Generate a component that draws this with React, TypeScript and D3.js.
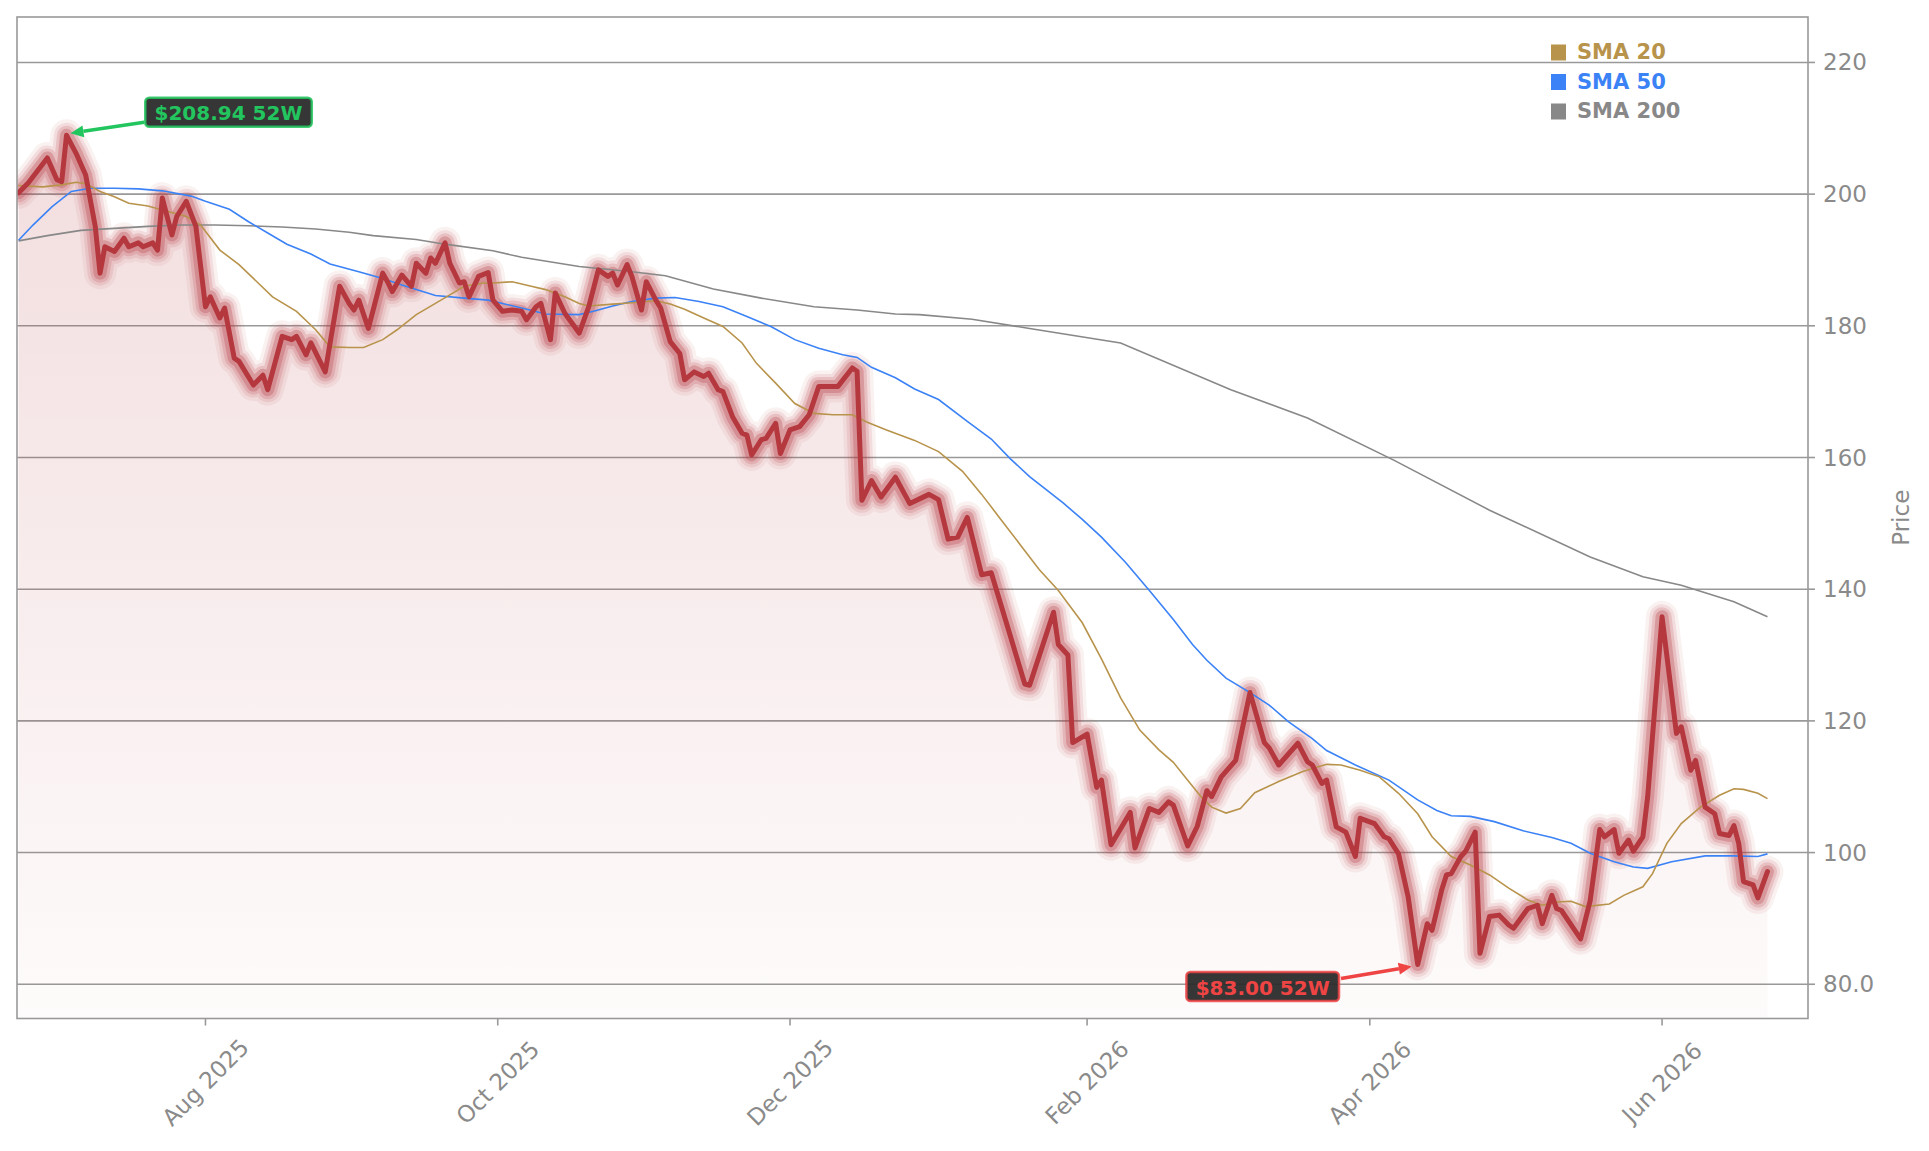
import React from 'react';
import * as d3 from 'd3';

// Daily close (vertices)
const price: [string, number][] = [
  ['2025-06-23', 200.2], ['2025-06-25', 201.7], ['2025-06-29', 205.5], ['2025-07-01', 202.2],
  ['2025-07-02', 201.9], ['2025-07-03', 208.94], ['2025-07-05', 206.2], ['2025-07-07', 202.9],
  ['2025-07-09', 195.1], ['2025-07-10', 188.0], ['2025-07-11', 192.0], ['2025-07-13', 191.3],
  ['2025-07-15', 193.3], ['2025-07-16', 192.0], ['2025-07-18', 192.6], ['2025-07-19', 192.0],
  ['2025-07-21', 192.6], ['2025-07-22', 191.5], ['2025-07-23', 199.4], ['2025-07-25', 193.8],
  ['2025-07-26', 196.6], ['2025-07-28', 198.9], ['2025-07-30', 195.1], ['2025-08-01', 182.9],
  ['2025-08-02', 184.4], ['2025-08-04', 181.2], ['2025-08-05', 182.7], ['2025-08-07', 175.1],
  ['2025-08-08', 174.6], ['2025-08-11', 171.0], ['2025-08-13', 172.5], ['2025-08-14', 170.3],
  ['2025-08-17', 178.4], ['2025-08-19', 177.9], ['2025-08-20', 178.4], ['2025-08-22', 175.6],
  ['2025-08-23', 177.4], ['2025-08-26', 173.0], ['2025-08-29', 186.0], ['2025-08-31', 183.4],
  ['2025-09-01', 182.4], ['2025-09-02', 183.9], ['2025-09-04', 179.6], ['2025-09-07', 188.0],
  ['2025-09-08', 186.7], ['2025-09-09', 185.2], ['2025-09-11', 187.7], ['2025-09-13', 186.0],
  ['2025-09-14', 189.5], ['2025-09-16', 188.0], ['2025-09-17', 190.3], ['2025-09-18', 189.5],
  ['2025-09-20', 192.6], ['2025-09-21', 189.5], ['2025-09-23', 186.5], ['2025-09-24', 186.7],
  ['2025-09-25', 184.4], ['2025-09-27', 187.5], ['2025-09-29', 188.1], ['2025-09-30', 183.9],
  ['2025-10-02', 182.2], ['2025-10-04', 182.4], ['2025-10-06', 182.2], ['2025-10-07', 180.9],
  ['2025-10-09', 182.9], ['2025-10-10', 183.4], ['2025-10-12', 177.9], ['2025-10-13', 185.0],
  ['2025-10-15', 181.9], ['2025-10-18', 178.9], ['2025-10-20', 182.9], ['2025-10-22', 188.5],
  ['2025-10-24', 187.5], ['2025-10-25', 188.0], ['2025-10-26', 186.2], ['2025-10-28', 189.3],
  ['2025-10-29', 187.5], ['2025-10-31', 182.4], ['2025-11-01', 186.7], ['2025-11-03', 183.9],
  ['2025-11-04', 182.7], ['2025-11-06', 177.6], ['2025-11-08', 175.8], ['2025-11-09', 171.8],
  ['2025-11-11', 173.0], ['2025-11-13', 172.3], ['2025-11-14', 172.8], ['2025-11-16', 170.3],
  ['2025-11-17', 170.0], ['2025-11-19', 166.2], ['2025-11-21', 163.7], ['2025-11-22', 163.4],
  ['2025-11-23', 160.4], ['2025-11-25', 162.7], ['2025-11-26', 162.9], ['2025-11-28', 165.2],
  ['2025-11-29', 160.6], ['2025-12-01', 164.2], ['2025-12-03', 164.7], ['2025-12-05', 166.5],
  ['2025-12-07', 170.8], ['2025-12-09', 170.8], ['2025-12-11', 170.8], ['2025-12-14', 173.6],
  ['2025-12-15', 173.1], ['2025-12-16', 153.5], ['2025-12-18', 156.5], ['2025-12-20', 154.0],
  ['2025-12-23', 157.0], ['2025-12-26', 153.0], ['2025-12-30', 154.4], ['2026-01-01', 153.6],
  ['2026-01-03', 147.6], ['2026-01-05', 147.9], ['2026-01-07', 150.9], ['2026-01-10', 142.2],
  ['2026-01-12', 142.5], ['2026-01-19', 125.6], ['2026-01-20', 125.4], ['2026-01-25', 136.5],
  ['2026-01-26', 131.6], ['2026-01-28', 130.0], ['2026-01-29', 116.7], ['2026-02-01', 118.0],
  ['2026-02-03', 109.9], ['2026-02-04', 111.0], ['2026-02-06', 101.2], ['2026-02-10', 106.1],
  ['2026-02-11', 100.7], ['2026-02-14', 106.7], ['2026-02-16', 106.1], ['2026-02-18', 107.7],
  ['2026-02-19', 107.2], ['2026-02-22', 101.0], ['2026-02-24', 104.0], ['2026-02-26', 109.4],
  ['2026-02-27', 108.5], ['2026-03-01', 111.5], ['2026-03-04', 114.0], ['2026-03-07', 124.3],
  ['2026-03-10', 116.7], ['2026-03-11', 115.9], ['2026-03-13', 113.3], ['2026-03-17', 116.6],
  ['2026-03-19', 113.8], ['2026-03-20', 113.3], ['2026-03-22', 110.5], ['2026-03-23', 111.0],
  ['2026-03-25', 103.9], ['2026-03-27', 103.1], ['2026-03-29', 99.4], ['2026-03-30', 105.2],
  ['2026-04-02', 104.4], ['2026-04-04', 102.4], ['2026-04-05', 102.1], ['2026-04-07', 99.8],
  ['2026-04-09', 93.3], ['2026-04-11', 83.0], ['2026-04-13', 89.2], ['2026-04-14', 88.2],
  ['2026-04-16', 94.3], ['2026-04-17', 96.6], ['2026-04-18', 96.8], ['2026-04-20', 99.4],
  ['2026-04-21', 100.2], ['2026-04-23', 103.1], ['2026-04-24', 84.7], ['2026-04-26', 90.3],
  ['2026-04-28', 90.5], ['2026-04-30', 89.0], ['2026-05-01', 88.5], ['2026-05-04', 91.5],
  ['2026-05-06', 92.0], ['2026-05-07', 89.2], ['2026-05-09', 93.5], ['2026-05-10', 91.5],
  ['2026-05-11', 91.2], ['2026-05-15', 86.9], ['2026-05-17', 92.7], ['2026-05-19', 103.5],
  ['2026-05-20', 102.4], ['2026-05-22', 103.5], ['2026-05-23', 99.9], ['2026-05-25', 101.9],
  ['2026-05-26', 100.2], ['2026-05-28', 102.4], ['2026-05-29', 108.5], ['2026-06-01', 135.8],
  ['2026-06-04', 118.1], ['2026-06-05', 119.1], ['2026-06-07', 112.5], ['2026-06-08', 114.0],
  ['2026-06-10', 106.9], ['2026-06-12', 105.9], ['2026-06-13', 102.9], ['2026-06-15', 102.6],
  ['2026-06-16', 104.1], ['2026-06-17', 101.4], ['2026-06-18', 95.6], ['2026-06-20', 95.1],
  ['2026-06-21', 93.1], ['2026-06-23', 97.1],
];

const sma20: [string, number][] = [
  ['2025-06-23', 201.3], ['2025-06-28', 201.1], ['2025-07-02', 201.4], ['2025-07-05', 201.8],
  ['2025-07-07', 201.6], ['2025-07-10', 200.4], ['2025-07-13', 199.6], ['2025-07-16', 198.6],
  ['2025-07-20', 198.2], ['2025-07-23', 197.6], ['2025-07-28', 196.6], ['2025-07-31', 195.3],
  ['2025-08-04', 191.5], ['2025-08-08', 189.3], ['2025-08-11', 187.2], ['2025-08-15', 184.4],
  ['2025-08-20', 182.2], ['2025-08-24', 179.4], ['2025-08-27', 176.8], ['2025-08-31', 176.7],
  ['2025-09-03', 176.7], ['2025-09-07', 177.9], ['2025-09-10', 179.4], ['2025-09-14', 181.7],
  ['2025-09-18', 183.4], ['2025-09-21', 184.7], ['2025-09-24', 186.0], ['2025-09-28', 186.5],
  ['2025-09-30', 186.5], ['2025-10-04', 186.7], ['2025-10-08', 186.0], ['2025-10-11', 185.5],
  ['2025-10-15', 184.4], ['2025-10-18', 183.4], ['2025-10-20', 183.0], ['2025-10-25', 183.3],
  ['2025-10-29', 183.5], ['2025-11-03', 183.8], ['2025-11-06', 183.3], ['2025-11-09', 182.5],
  ['2025-11-13', 181.2], ['2025-11-17', 179.9], ['2025-11-21', 177.4], ['2025-11-24', 174.3],
  ['2025-11-28', 171.3], ['2025-12-02', 168.2], ['2025-12-06', 166.7], ['2025-12-10', 166.5],
  ['2025-12-14', 166.5], ['2025-12-17', 165.4], ['2025-12-21', 164.2], ['2025-12-27', 162.6],
  ['2026-01-01', 160.9], ['2026-01-06', 157.9], ['2026-01-10', 154.4], ['2026-01-14', 150.6],
  ['2026-01-18', 146.8], ['2026-01-22', 143.0], ['2026-01-26', 139.8], ['2026-01-31', 134.9],
  ['2026-02-04', 129.4], ['2026-02-08', 123.5], ['2026-02-12', 118.6], ['2026-02-16', 115.6],
  ['2026-02-19', 113.7], ['2026-02-22', 111.0], ['2026-02-25', 108.3], ['2026-02-27', 106.9],
  ['2026-03-02', 106.0], ['2026-03-05', 106.7], ['2026-03-08', 109.1], ['2026-03-13', 110.8],
  ['2026-03-18', 112.3], ['2026-03-23', 113.4], ['2026-03-26', 113.3], ['2026-03-30', 112.5],
  ['2026-04-03', 111.5], ['2026-04-07', 109.0], ['2026-04-11', 105.9], ['2026-04-14', 102.4],
  ['2026-04-18', 99.4], ['2026-04-22', 98.1], ['2026-04-26', 96.6], ['2026-04-30', 94.6],
  ['2026-05-04', 92.8], ['2026-05-07', 92.0], ['2026-05-10', 92.5], ['2026-05-13', 92.6],
  ['2026-05-16', 91.8], ['2026-05-21', 92.2], ['2026-05-24', 93.5], ['2026-05-28', 94.8],
  ['2026-05-30', 96.8], ['2026-06-02', 101.4], ['2026-06-05', 104.4], ['2026-06-09', 106.9],
  ['2026-06-13', 108.7], ['2026-06-16', 109.7], ['2026-06-18', 109.6], ['2026-06-21', 109.0],
  ['2026-06-23', 108.2],
];

const sma50: [string, number][] = [
  ['2025-06-23', 193.0], ['2025-06-26', 195.3], ['2025-06-30', 198.1], ['2025-07-04', 200.4],
  ['2025-07-08', 200.9], ['2025-07-13', 200.9], ['2025-07-18', 200.8], ['2025-07-23', 200.5],
  ['2025-07-29', 199.7], ['2025-08-01', 198.9], ['2025-08-06', 197.7], ['2025-08-10', 195.8],
  ['2025-08-14', 194.1], ['2025-08-18', 192.4], ['2025-08-23', 190.9], ['2025-08-27', 189.4],
  ['2025-09-02', 188.2], ['2025-09-07', 187.2], ['2025-09-11', 186.2], ['2025-09-15', 185.3],
  ['2025-09-18', 184.6], ['2025-09-24', 184.2], ['2025-09-29', 183.9], ['2025-10-02', 183.4],
  ['2025-10-06', 182.7], ['2025-10-11', 181.8], ['2025-10-18', 181.7], ['2025-10-21', 182.2],
  ['2025-10-25', 183.0], ['2025-10-29', 183.7], ['2025-11-03', 184.2], ['2025-11-07', 184.3],
  ['2025-11-12', 183.7], ['2025-11-17', 182.9], ['2025-11-22', 181.4], ['2025-11-27', 179.9],
  ['2025-12-02', 177.9], ['2025-12-07', 176.6], ['2025-12-12', 175.6], ['2025-12-15', 175.2],
  ['2025-12-18', 173.7], ['2025-12-23', 172.1], ['2025-12-27', 170.4], ['2026-01-01', 168.8],
  ['2026-01-07', 165.5], ['2026-01-12', 162.8], ['2026-01-16', 159.8], ['2026-01-20', 157.1],
  ['2026-01-27', 153.1], ['2026-01-31', 150.6], ['2026-02-04', 147.9], ['2026-02-09', 144.1],
  ['2026-02-14', 139.8], ['2026-02-19', 135.4], ['2026-02-23', 131.6], ['2026-02-26', 129.2],
  ['2026-03-02', 126.5], ['2026-03-07', 124.3], ['2026-03-11', 122.4], ['2026-03-15', 119.9],
  ['2026-03-20', 117.3], ['2026-03-23', 115.5], ['2026-03-29', 113.3], ['2026-04-05', 111.0],
  ['2026-04-11', 108.0], ['2026-04-15', 106.4], ['2026-04-18', 105.6], ['2026-04-22', 105.5],
  ['2026-04-27', 104.7], ['2026-05-03', 103.3], ['2026-05-09', 102.3], ['2026-05-13', 101.4],
  ['2026-05-17', 99.9], ['2026-05-22', 98.6], ['2026-05-26', 97.8], ['2026-05-29', 97.6],
  ['2026-06-03', 98.6], ['2026-06-10', 99.5], ['2026-06-16', 99.5], ['2026-06-21', 99.4],
  ['2026-06-23', 99.8],
];

const sma200: [string, number][] = [
  ['2025-06-23', 192.9], ['2025-06-29', 193.7], ['2025-07-06', 194.5], ['2025-07-13', 194.8],
  ['2025-07-20', 195.1], ['2025-07-27', 195.3], ['2025-08-03', 195.3], ['2025-08-10', 195.2],
  ['2025-08-17', 195.0], ['2025-08-24', 194.7], ['2025-08-31', 194.2], ['2025-09-05', 193.7],
  ['2025-09-14', 193.1], ['2025-09-20', 192.4], ['2025-09-30', 191.4], ['2025-10-06', 190.4],
  ['2025-10-18', 189.0], ['2025-10-29', 188.2], ['2025-11-05', 187.6], ['2025-11-15', 185.6],
  ['2025-11-25', 184.2], ['2025-12-06', 182.9], ['2025-12-15', 182.4], ['2025-12-23', 181.8],
  ['2025-12-28', 181.7], ['2026-01-08', 181.0], ['2026-01-20', 179.6], ['2026-02-08', 177.4],
  ['2026-03-03', 170.3], ['2026-03-19', 166.0], ['2026-04-06', 159.6], ['2026-04-26', 152.0],
  ['2026-05-17', 144.9], ['2026-05-28', 141.9], ['2026-06-05', 140.6], ['2026-06-16', 138.1],
  ['2026-06-23', 135.8],
];

const yTicks = [80, 100, 120, 140, 160, 180, 200, 220];
const yTickLabels = ['80.0', '100', '120', '140', '160', '180', '200', '220'];
const xTicks = ['2025-08-01', '2025-10-01', '2025-12-01', '2026-02-01', '2026-04-01', '2026-06-01'];
const xDomain = ['2025-06-22 16:00', '2026-07-01 11:00'];
const yDomain = [74.8, 226.9];

const legendItems = [
  { label: 'SMA 20', color: '#b8934b' },
  { label: 'SMA 50', color: '#3b82f6' },
  { label: 'SMA 200', color: '#888888' },
];

const high = { date: '2025-07-03', value: 208.94, label: '$208.94 52W', color: '#22c55e' };
const low = { date: '2026-04-11', value: 83.0, label: '$83.00 52W', color: '#ef4444' };

const W = 1929;
const H = 1151;
const plot = { left: 17, top: 17, right: 1808, bottom: 1018.5 };
const axisColor = '#999999';
const textColor = '#8a8a8a';
const font = 'DejaVu Sans, sans-serif';
const priceColor = '#b5383f';

const parseDay = d3.timeParse('%Y-%m-%d');
const parseHour = d3.timeParse('%Y-%m-%d %H:%M');

// rough width of DejaVu Sans Bold text
const boldWidth = (s: string, size: number) => {
  let w = 0;
  for (const ch of s) {
    if (ch === ' ') w += 0.348;
    else if (ch === '.') w += 0.38;
    else if (ch === 'W') w += 1.03;
    else w += 0.696;
  }
  return w * size;
};

const App: React.FC = () => {
  const x = d3.scaleTime()
    .domain(xDomain.map(d => parseHour(d) as Date))
    .range([plot.left, plot.right]);
  const y = d3.scaleLinear().domain(yDomain).range([plot.bottom, plot.top]);

  const toPts = (s: [string, number][]) => s.map(([d, v]) => ({ date: parseDay(d) as Date, v }));
  const pricePts = toPts(price);

  const line = d3.line<{ date: Date; v: number }>()
    .x(d => x(d.date))
    .y(d => y(d.v));
  const area = d3.area<{ date: Date; v: number }>()
    .x(d => x(d.date))
    .y0(plot.bottom)
    .y1(d => y(d.v));

  const pricePath = line(pricePts) || '';
  // stacked translucent strokes give the stepped glow
  const glowLayers = [
    { w: 32, o: 0.07 },
    { w: 25, o: 0.11 },
    { w: 19, o: 0.17 },
    { w: 13, o: 0.28 },
  ];

  const smaSeries = [
    { data: sma200, color: '#888888' },
    { data: sma50, color: '#3b82f6' },
    { data: sma20, color: '#b8934b' },
  ];

  const annot = (a: typeof high, dx: number, dy: number, side: 'right' | 'left') => {
    const px = x(parseDay(a.date) as Date);
    const py = y(a.value);
    const fs = 20;
    const bw = boldWidth(a.label, fs) + 20;
    const bh = 29;
    const cx = px + dx;
    const cy = py + dy;
    const edgeX = side === 'right' ? cx - bw / 2 : cx + bw / 2;
    const sx = edgeX + (side === 'right' ? -1 : 2);
    const sy = side === 'right' ? cy + 10 : cy - 8;
    const ex = side === 'right' ? px + 4 : px - 6;
    const ey = side === 'right' ? py - 2 : py + 2;
    const ang = Math.atan2(ey - sy, ex - sx);
    const hl = 13;
    const hw = 6;
    const bx = ex - hl * Math.cos(ang);
    const by = ey - hl * Math.sin(ang);
    const head = [
      [ex, ey],
      [bx + hw * Math.sin(ang), by - hw * Math.cos(ang)],
      [bx - hw * Math.sin(ang), by + hw * Math.cos(ang)],
    ].map(p => p.join(',')).join(' ');
    return (
      <g>
        <line x1={sx} y1={sy} x2={bx} y2={by} stroke={a.color} strokeWidth={3.5} />
        <polygon points={head} fill={a.color} />
        <rect x={cx - bw / 2} y={cy - bh / 2} width={bw} height={bh} rx={4}
          fill="#2b2b2b" fillOpacity={0.95} stroke={a.color} strokeOpacity={0.85} strokeWidth={2.5} />
        <text x={cx} y={cy + 1} textAnchor="middle" dominantBaseline="central"
          fontFamily={font} fontWeight="bold" fontSize={fs} fill={a.color}>{a.label}</text>
      </g>
    );
  };

  return (
    <svg width={W} height={H} style={{ position: 'absolute', left: 0, top: 0, background: '#fff' }}>
      <defs>
        <clipPath id="plotClip">
          <rect x={plot.left} y={plot.top} width={plot.right - plot.left} height={plot.bottom - plot.top} />
        </clipPath>
        <linearGradient id="fillGrad" x1="0" y1="0" x2="0" y2="1">
          <stop offset="0%" stopColor={priceColor} stopOpacity={0.17} />
          <stop offset="100%" stopColor={priceColor} stopOpacity={0.02} />
        </linearGradient>
      </defs>

      {/* grid */}
      {yTicks.map(t => (
        <line key={t} x1={plot.left} x2={plot.right} y1={y(t)} y2={y(t)} stroke={axisColor} strokeWidth={1.6} />
      ))}

      <g clipPath="url(#plotClip)">
        <path d={area(pricePts) || ''} fill="url(#fillGrad)" />
        {glowLayers.map((g, i) => (
          <path key={i} d={pricePath} fill="none" stroke={priceColor} strokeOpacity={g.o}
            strokeWidth={g.w} strokeLinejoin="round" strokeLinecap="round" />
        ))}
        {smaSeries.map((s, i) => (
          <path key={i} d={line(toPts(s.data)) || ''} fill="none" stroke={s.color} strokeWidth={1.6} />
        ))}
        <path d={pricePath} fill="none" stroke={priceColor} strokeWidth={5}
          strokeLinejoin="round" strokeLinecap="round" />
      </g>

      {/* frame */}
      <rect x={plot.left} y={plot.top} width={plot.right - plot.left} height={plot.bottom - plot.top}
        fill="none" stroke={axisColor} strokeWidth={1.6} />

      {/* y axis on right */}
      {yTicks.map((t, i) => (
        <g key={t}>
          <line x1={plot.right} x2={plot.right + 7} y1={y(t)} y2={y(t)} stroke={axisColor} strokeWidth={1.6} />
          <text x={plot.right + 15} y={y(t)} dominantBaseline="central" fontFamily={font}
            fontSize={23} fill={textColor}>{yTickLabels[i]}</text>
        </g>
      ))}
      <text transform={`translate(1901,${(plot.top + plot.bottom) / 2}) rotate(-90)`} textAnchor="middle"
        dominantBaseline="central" fontFamily={font} fontSize={23} fill={textColor}>Price</text>

      {/* x axis */}
      {xTicks.map(t => {
        const d = parseDay(t) as Date;
        const tx = x(d);
        return (
          <g key={t}>
            <line x1={tx} x2={tx} y1={plot.bottom} y2={plot.bottom + 7} stroke={axisColor} strokeWidth={1.6} />
            <text transform={`translate(${tx},${plot.bottom + 64}) rotate(-45)`} textAnchor="middle"
              dominantBaseline="central" fontFamily={font} fontSize={23} fill={textColor}>
              {d3.timeFormat('%b %Y')(d)}
            </text>
          </g>
        );
      })}

      {/* legend */}
      {legendItems.map((l, i) => (
        <g key={l.label} transform={`translate(1551,${52 + i * 29.5})`}>
          <rect x={0} y={-7.5} width={15} height={16} fill={l.color} />
          <text x={26} y={0} dominantBaseline="central" fontFamily={font} fontWeight="bold"
            fontSize={21} fill={l.color}>{l.label}</text>
        </g>
      ))}

      {annot(high, 162, -23, 'right')}
      {annot(low, -155, 22, 'left')}
    </svg>
  );
};

export default App;
